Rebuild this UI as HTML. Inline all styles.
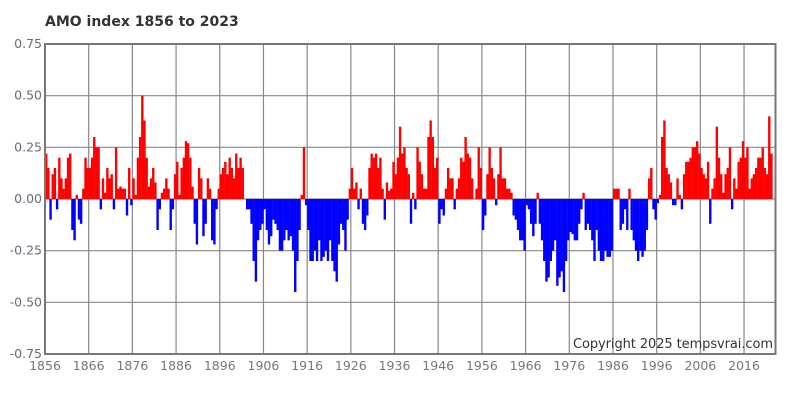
<!DOCTYPE html>
<html><head><meta charset="utf-8"><style>
body{margin:0;background:#fff;}
svg{display:block;font-family:"DejaVu Sans","Liberation Sans",sans-serif;}
</style></head><body>
<svg id="chart" width="800" height="400">
<text x="45" y="26" font-size="14" font-weight="bold" fill="#333">AMO index 1856 to 2023</text>
<g id="grid"></g>
<g id="bars"></g>
<g id="axes"></g>
<text x="773" y="348" font-size="13" fill="#333" text-anchor="end" textLength="200">Copyright 2025 tempsvrai.com</text>
</svg>
<script>
const startYear = 1856;
const yTicks = [0.75, 0.5, 0.25, 0, -0.25, -0.5, -0.75];
const yTickLabels = ["0.75","0.50","0.25","0.00","-0.25","-0.50","-0.75"];
const xTickYears = [1856,1866,1876,1886,1896,1906,1916,1926,1936,1946,1956,1966,1976,1986,1996,2006,2016];
// half-year values starting 1856
const amoValues = [
0.22,0.15,-0.1,0.12,0.15,-0.05,0.2,0.1,0.05,0.1,0.2,0.22,-0.15,-0.2,0.02,-0.1,-0.12,0.05,0.2,0.15,
0.15,0.2,0.3,0.25,0.25,-0.05,0.1,0.03,0.15,0.1,0.12,-0.05,0.25,0.05,0.06,0.05,0.05,-0.08,0.15,-0.03,
0.1,0.02,0.2,0.3,0.5,0.38,0.2,0.06,0.1,0.15,0.08,-0.15,-0.05,0.03,0.05,0.1,0.05,-0.15,-0.05,0.12,
0.18,0.02,0.15,0.2,0.28,0.27,0.2,0.06,-0.12,-0.22,0.15,0.1,-0.18,-0.12,0.1,0.05,-0.2,-0.22,-0.05,0.05,
0.12,0.15,0.18,0.12,0.2,0.15,0.1,0.22,0.15,0.2,0.15,0.0,-0.05,-0.05,-0.12,-0.3,-0.4,-0.2,-0.15,-0.12,
-0.05,-0.15,-0.22,-0.18,-0.1,-0.12,-0.15,-0.25,-0.25,-0.2,-0.15,-0.2,-0.18,-0.25,-0.45,-0.3,-0.15,0.02,0.25,-0.03,
-0.15,-0.3,-0.3,-0.25,-0.3,-0.2,-0.3,-0.28,-0.25,-0.3,-0.2,-0.3,-0.35,-0.4,-0.22,-0.12,-0.15,-0.25,-0.1,0.05,
0.15,0.05,0.08,-0.05,0.05,-0.12,-0.15,-0.08,0.15,0.22,0.2,0.22,0.15,0.2,0.05,-0.1,0.08,0.04,0.05,0.18,
0.12,0.2,0.35,0.22,0.25,0.15,0.12,-0.12,0.03,-0.05,0.25,0.18,0.12,0.05,0.05,0.3,0.38,0.3,0.15,0.2,
-0.12,-0.05,-0.08,0.05,0.15,0.1,0.1,-0.05,0.05,0.1,0.2,0.18,0.3,0.22,0.2,0.1,0.0,0.05,0.25,0.15,
-0.15,-0.08,0.12,0.25,0.15,0.1,-0.03,0.12,0.25,0.1,0.1,0.05,0.05,0.03,-0.08,-0.1,-0.15,-0.2,-0.2,-0.25,
-0.03,-0.05,-0.12,-0.18,-0.12,0.03,-0.12,-0.2,-0.3,-0.4,-0.38,-0.3,-0.25,-0.2,-0.42,-0.38,-0.35,-0.45,-0.3,-0.2,
-0.16,-0.17,-0.2,-0.2,-0.12,-0.05,0.03,-0.15,-0.12,-0.15,-0.2,-0.3,-0.15,-0.25,-0.3,-0.3,-0.25,-0.28,-0.28,-0.25,
0.05,0.05,0.05,-0.15,-0.12,-0.05,-0.15,0.05,-0.15,-0.2,-0.25,-0.3,-0.25,-0.28,-0.25,-0.15,0.1,0.15,-0.05,-0.1,
-0.02,0.02,0.3,0.38,0.15,0.12,0.08,-0.03,-0.03,0.1,0.02,-0.05,0.12,0.18,0.18,0.2,0.25,0.25,0.28,0.22,
0.15,0.12,0.1,0.18,-0.12,0.05,0.1,0.35,0.2,0.12,0.03,0.12,0.15,0.25,-0.05,0.1,0.05,0.18,0.2,0.28,
0.2,0.25,0.05,0.1,0.12,0.15,0.2,0.2,0.25,0.15,0.12,0.4,0.22
];
const NS='http://www.w3.org/2000/svg';
const L=45,R=775.5,T=44,B=354,yMin=-0.75,yMax=0.75,xMin=1856,xMax=2023.2;
const xs=v=>L+(v-xMin)/(xMax-xMin)*(R-L);
const ys=v=>T+(yMax-v)/(yMax-yMin)*(B-T);
function mk(tag,attrs,parent){const e=document.createElementNS(NS,tag);for(const k in attrs)e.setAttribute(k,attrs[k]);parent.appendChild(e);return e;}
const grid=document.getElementById('grid'),bars=document.getElementById('bars'),axes=document.getElementById('axes');
yTicks.forEach((t,i)=>{
  const ln=mk('line',{x1:L,x2:R,y1:ys(t),y2:ys(t),stroke:'#888','stroke-width':1.2},grid);
  
  
  const tx=mk('text',{x:42,y:ys(t)+4,'font-size':12.5,fill:'#6a6a7a','text-anchor':'end'},axes);
  tx.textContent=yTickLabels[i];
  
  
});
xTickYears.forEach(yr=>{
  const ln=mk('line',{x1:xs(yr),x2:xs(yr),y1:T,y2:B,stroke:'#888','stroke-width':1.2},grid);
  
  
  const tx=mk('text',{x:xs(yr),y:370,'font-size':12.5,fill:'#777','text-anchor':'middle'},axes);
  tx.textContent=String(yr);
  
  
});
amoValues.forEach((v,i)=>{
  const x0=xs(startYear+i*0.5),x1=xs(startYear+(i+1)*0.5);
  const y0=ys(0),yv=ys(v);
  const r=mk('rect',{x:x0,y:Math.min(y0,yv),width:(x1-x0)+0.2,height:Math.abs(yv-y0),fill:v>=0?'#ff0000':'#0000ff'},bars);
  
  
});
const fr=mk('rect',{x:L,y:T,width:R-L,height:B-T,fill:'none',stroke:'#777','stroke-width':2},axes);


</script>
</body></html>
